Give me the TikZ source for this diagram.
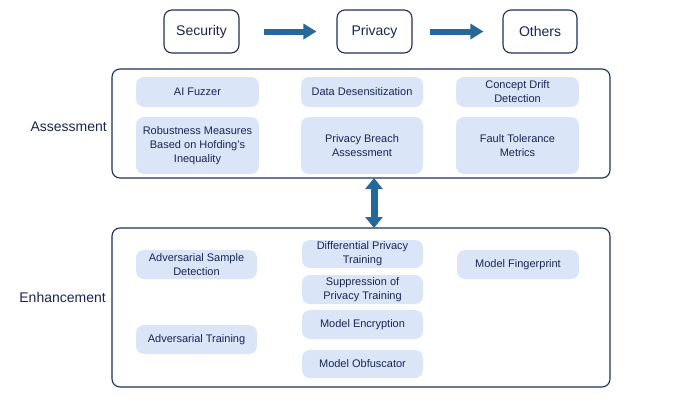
\documentclass[tikz,border=0pt]{standalone}
\usepackage{fontspec}
\setmainfont{Liberation Sans}
\usepackage{tikz}
\usetikzlibrary{arrows.meta}

\definecolor{navy}{HTML}{1C2F5E}
\definecolor{ink}{HTML}{1A2456}
\definecolor{pale}{HTML}{DAE6F8}
\definecolor{steel}{HTML}{27689B}

\tikzset{
    stage/.style={draw=navy,line width=1.1bp,rounded corners=8bp,fill=white,text=ink,font=\fontsize{14bp}{16bp}\selectfont,minimum height=43bp,inner sep=0pt},
    frame/.style={draw=navy,line width=1.1bp,rounded corners=8bp,inner sep=0pt},
    item/.style={fill=pale,rounded corners=8bp,text=ink,align=center,inner sep=0pt,font=\fontsize{11bp}{14bp}\selectfont},
    side/.style={text=ink,font=\fontsize{14bp}{16bp}\selectfont,anchor=east,inner sep=0pt},
    flow/.style={steel,line width=6bp,-{Triangle[length=13bp,width=15bp]}},
    link/.style={steel,line width=7bp,{Triangle[length=11bp,width=17bp]}-{Triangle[length=11bp,width=17bp]}}
}

\begin{document}
\begin{tikzpicture}[x=1bp,y=-1bp]
            \useasboundingbox (0,0) rectangle (682,416);

            \node[stage,minimum width=75bp] (sec) at (201.5,31.5) {Security};
            \node[stage,minimum width=75bp] (priv) at (374.5,31.5) {Privacy};
            \node[stage,minimum width=74bp] (oth) at (540,31.5) {Others};
            \draw[flow,shorten <=24bp,shorten >=20bp] (sec) -- (priv);
            \draw[flow,shorten <=17bp,shorten >=19bp] (priv) -- (oth);

            \node[frame,minimum width=498bp,minimum height=109bp] (assess) at (361,123.5) {};
            \node[frame,minimum width=498bp,minimum height=159bp] (enhance) at (361,307.5) {};
            \node[side] (assesslabel) at (107,127) {Assessment};
            \node[side] (enhancelabel) at (106,297) {Enhancement};
            \coordinate (linktop) at (374,178);
            \coordinate (linkbot) at (374,228);
            \draw[link] (linktop) -- (linkbot);

            % Assessment
            \node[item,minimum width=123bp,minimum height=30bp] (fuzz) at (197.5,92) {AI Fuzzer};
            \node[item,minimum width=122bp,minimum height=30bp] (desens) at (362,92) {Data Desensitization};
            \node[item,minimum width=123bp,minimum height=30bp] (drift) at (517.5,92) {Concept Drift\\Detection};
            \node[item,minimum width=123bp,minimum height=57bp] (robust) at (197.5,145.5) {Robustness Measures\\Based on Hofding's\\Inequality};
            \node[item,minimum width=122bp,minimum height=57bp] (breach) at (362,145.5) {Privacy Breach\\Assessment};
            \node[item,minimum width=123bp,minimum height=57bp] (fault) at (517.5,145.5) {Fault Tolerance\\Metrics};

            % Enhancement
            \node[item,minimum width=121bp,minimum height=29bp] (advdet) at (196.5,264.5) {Adversarial Sample\\Detection};
            \node[item,minimum width=121bp,minimum height=29bp] (advtrain) at (196.5,339.5) {Adversarial Training};
            \node[item,minimum width=121bp,minimum height=28bp] (dptrain) at (362.5,254) {Differential Privacy\\Training};
            \node[item,minimum width=121bp,minimum height=29bp] (suppress) at (362.5,289.5) {Suppression of\\Privacy Training};
            \node[item,minimum width=121bp,minimum height=29bp] (encrypt) at (362.5,324.5) {Model Encryption};
            \node[item,minimum width=121bp,minimum height=28bp] (obfus) at (362.5,364) {Model Obfuscator};
            \node[item,minimum width=122bp,minimum height=29bp] (finger) at (518,264.5) {Model Fingerprint};
        \end{tikzpicture}
\end{document}
